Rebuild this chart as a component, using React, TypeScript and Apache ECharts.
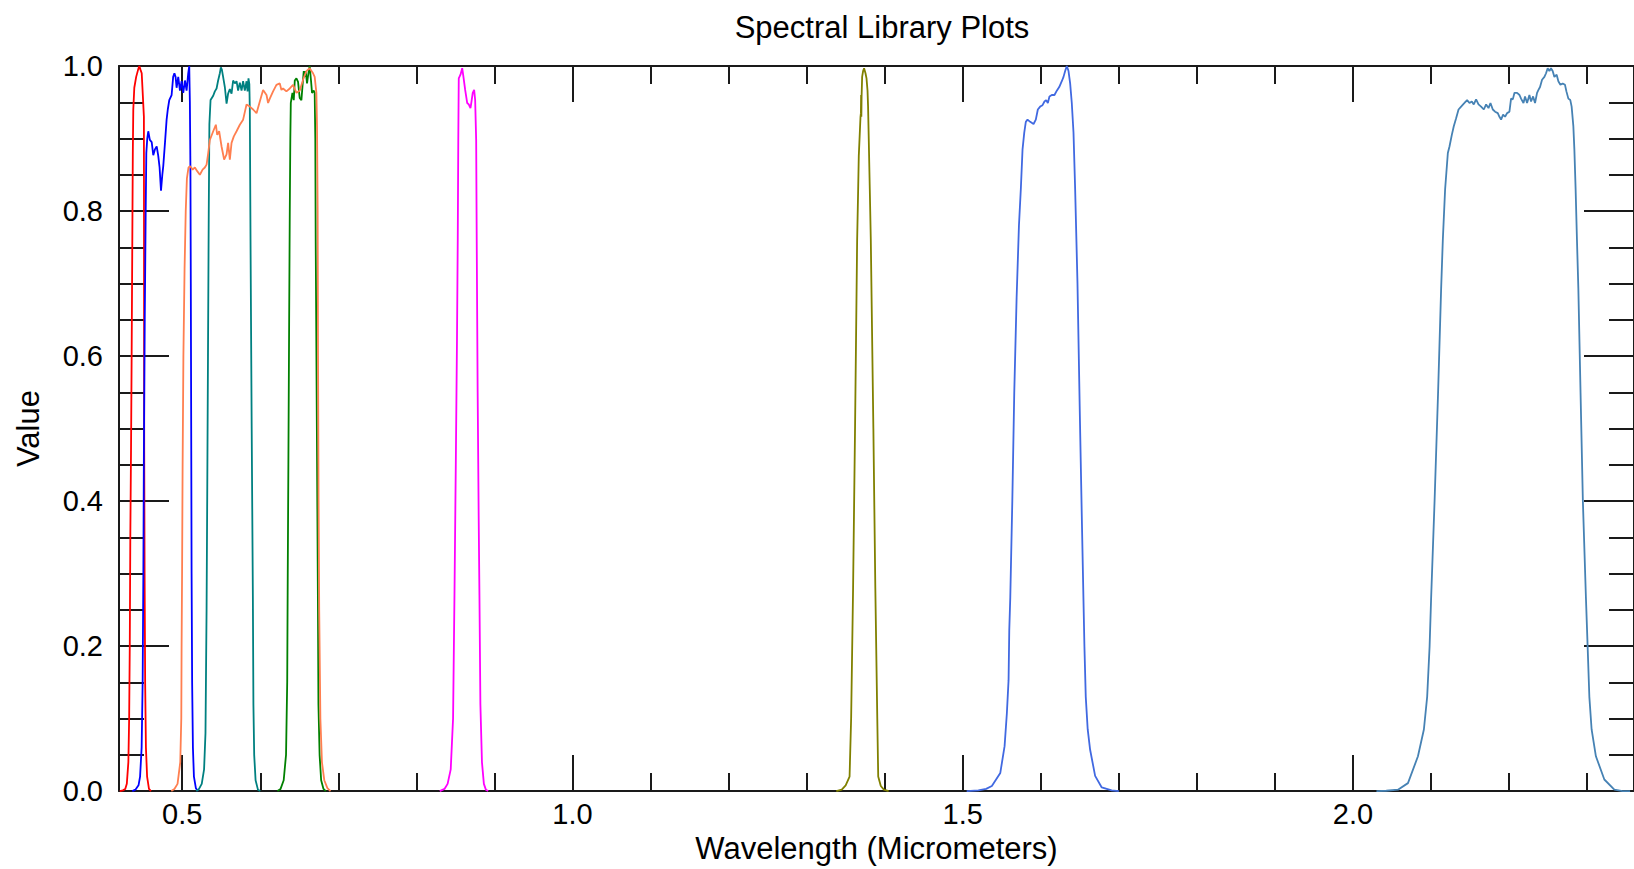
import React, { useEffect, useRef } from "react";
import * as echarts from "echarts";

// ---- axis data ----
const X_MIN = 0.419;
const X_MAX = 2.36;
const xMajorTicks = [0.5, 1.0, 1.5, 2.0];
const xMinorTicks = [0.6, 0.7, 0.8, 0.9, 1.1, 1.2, 1.3, 1.4, 1.6, 1.7, 1.8, 1.9, 2.1, 2.2, 2.3];
const Y_MIN = 0;
const Y_MAX = 1;
const Y_STEP = 0.2;

const chartTitle = "Spectral Library Plots";
const xName = "Wavelength (Micrometers)";
const yName = "Value";

// ---- series data: [wavelength (µm), value] ----
const coastal: [number, number][] = [
  [0.42, 0], [0.424, 0.001], [0.427, 0.003], [0.429, 0.01], [0.431, 0.04], [0.432, 0.1],
  [0.4328, 0.2], [0.4335, 0.35], [0.4344, 0.47], [0.4352, 0.6], [0.436, 0.75], [0.4367, 0.88],
  [0.4373, 0.94], [0.4386, 0.97], [0.441, 0.985], [0.4435, 0.995], [0.445, 1.0], [0.4465, 0.995],
  [0.4481, 0.99], [0.4495, 0.96], [0.4509, 0.93], [0.4511, 0.7], [0.4513, 0.47], [0.4518, 0.3],
  [0.4525, 0.15], [0.4535, 0.06], [0.455, 0.02], [0.4574, 0.003], [0.46, 0],
];

const blue: [number, number][] = [
  [0.436, 0], [0.44, 0.002], [0.444, 0.008], [0.446, 0.02], [0.448, 0.06], [0.4493, 0.15],
  [0.4502, 0.3], [0.4509, 0.47], [0.452, 0.65], [0.4532, 0.8], [0.454, 0.88], [0.4552, 0.9],
  [0.4565, 0.91], [0.4585, 0.898], [0.4609, 0.895], [0.4629, 0.877], [0.465, 0.885],
  [0.4673, 0.889], [0.4693, 0.876], [0.471, 0.86], [0.4728, 0.828], [0.4745, 0.85],
  [0.4757, 0.862], [0.4779, 0.894], [0.48, 0.926], [0.4815, 0.94], [0.4834, 0.953],
  [0.4864, 0.96], [0.4884, 0.985], [0.49, 0.99], [0.4915, 0.985], [0.4928, 0.97],
  [0.4949, 0.985], [0.4971, 0.966], [0.4992, 0.979], [0.5013, 0.963], [0.5035, 0.98],
  [0.5056, 0.966], [0.5077, 0.99], [0.509, 1.0], [0.5098, 0.95], [0.5105, 0.86], [0.511, 0.7],
  [0.5115, 0.5], [0.512, 0.3], [0.5127, 0.15], [0.5137, 0.06], [0.515, 0.02], [0.5175, 0.004],
  [0.52, 0],
];

const green: [number, number][] = [
  [0.518, 0], [0.5215, 0.003], [0.525, 0.01], [0.528, 0.03], [0.5298, 0.08], [0.5312, 0.25],
  [0.532, 0.4], [0.533, 0.6], [0.534, 0.8], [0.5348, 0.92], [0.5363, 0.953], [0.5397, 0.959],
  [0.5418, 0.965], [0.544, 0.969], [0.546, 0.98], [0.5482, 0.99], [0.5495, 0.998],
  [0.5508, 0.995], [0.5524, 0.985], [0.5546, 0.971], [0.5568, 0.948], [0.5588, 0.962],
  [0.561, 0.968], [0.5632, 0.962], [0.5652, 0.98], [0.5674, 0.976], [0.5696, 0.979],
  [0.5716, 0.966], [0.5738, 0.977], [0.576, 0.966], [0.578, 0.979], [0.5802, 0.966],
  [0.5824, 0.979], [0.5837, 0.965], [0.5849, 0.983], [0.586, 0.975], [0.5866, 0.94],
  [0.5875, 0.76], [0.589, 0.5], [0.5905, 0.27], [0.5912, 0.12], [0.5922, 0.05], [0.594, 0.015],
  [0.597, 0.002], [0.6, 0],
];

const red: [number, number][] = [
  [0.622, 0], [0.626, 0.003], [0.63, 0.015], [0.633, 0.05], [0.6345, 0.15], [0.6352, 0.3],
  [0.636, 0.45], [0.637, 0.65], [0.6378, 0.8], [0.6385, 0.9], [0.6391, 0.949], [0.6412, 0.963],
  [0.6429, 0.953], [0.6442, 0.98], [0.6463, 0.983], [0.6484, 0.978], [0.6505, 0.956],
  [0.6527, 0.953], [0.654, 0.971], [0.6557, 0.993], [0.6569, 0.985], [0.6582, 0.993],
  [0.6599, 0.976], [0.6617, 0.99], [0.6633, 1.0], [0.665, 0.98], [0.6663, 0.963],
  [0.6685, 0.966], [0.6697, 0.963], [0.6705, 0.9], [0.671, 0.76], [0.6725, 0.5],
  [0.6738, 0.27], [0.6745, 0.12], [0.676, 0.05], [0.678, 0.015], [0.681, 0.003], [0.684, 0],
];

const nir: [number, number][] = [
  [0.83, 0], [0.836, 0.003], [0.84, 0.01], [0.844, 0.03], [0.847, 0.1], [0.8488, 0.27],
  [0.8505, 0.45], [0.852, 0.62], [0.853, 0.76], [0.8537, 0.9], [0.8543, 0.983], [0.8565, 0.988],
  [0.8587, 0.997], [0.8603, 0.985], [0.8625, 0.967], [0.8651, 0.949], [0.8671, 0.947],
  [0.8693, 0.942], [0.8706, 0.951], [0.8722, 0.963], [0.874, 0.967], [0.8753, 0.953],
  [0.8766, 0.898], [0.8773, 0.76], [0.8785, 0.55], [0.8798, 0.38], [0.8808, 0.27],
  [0.882, 0.12], [0.884, 0.04], [0.8865, 0.01], [0.889, 0.002], [0.892, 0],
];

const swir1: [number, number][] = [
  [1.505, 0], [1.52, 0.001], [1.53, 0.003], [1.5373, 0.007], [1.5481, 0.025], [1.5536, 0.062],
  [1.5565, 0.107], [1.5587, 0.153], [1.5596, 0.222], [1.5609, 0.267], [1.5635, 0.4],
  [1.566, 0.55], [1.569, 0.68], [1.572, 0.78], [1.5744, 0.83], [1.5766, 0.885], [1.5788, 0.908],
  [1.5808, 0.923], [1.583, 0.926], [1.5864, 0.923], [1.5907, 0.92], [1.5936, 0.926],
  [1.5962, 0.94], [1.5992, 0.944], [1.6022, 0.946], [1.6047, 0.951], [1.6069, 0.953],
  [1.609, 0.949], [1.6111, 0.958], [1.6141, 0.96], [1.6175, 0.96], [1.6205, 0.966],
  [1.6236, 0.971], [1.6269, 0.979], [1.6291, 0.985], [1.6312, 0.993], [1.6333, 1.0],
  [1.6355, 0.993], [1.6376, 0.976], [1.6397, 0.949], [1.6419, 0.908], [1.644, 0.83],
  [1.647, 0.7], [1.65, 0.52], [1.6525, 0.38], [1.6546, 0.267], [1.6559, 0.199], [1.6576, 0.13],
  [1.6601, 0.085], [1.6632, 0.057], [1.6696, 0.021], [1.6781, 0.005], [1.6908, 0.001], [1.7, 0],
];

const swir2: [number, number][] = [
  [2.03, 0], [2.0426, 0.0005], [2.0576, 0.002], [2.0704, 0.011], [2.0832, 0.048],
  [2.0908, 0.085], [2.095, 0.13], [2.0981, 0.199], [2.1001, 0.267], [2.1045, 0.4],
  [2.109, 0.55], [2.1129, 0.693], [2.1151, 0.761], [2.118, 0.83], [2.1215, 0.88],
  [2.1236, 0.889], [2.1266, 0.905], [2.1291, 0.917], [2.1321, 0.928], [2.1352, 0.94],
  [2.1385, 0.944], [2.1428, 0.949], [2.1462, 0.953], [2.1492, 0.949], [2.1522, 0.951],
  [2.1547, 0.947], [2.1577, 0.954], [2.1608, 0.947], [2.1641, 0.944], [2.1676, 0.94],
  [2.1705, 0.947], [2.1736, 0.942], [2.1761, 0.949], [2.1791, 0.94], [2.182, 0.937],
  [2.1855, 0.935], [2.1876, 0.93], [2.1897, 0.926], [2.1923, 0.933], [2.1948, 0.93],
  [2.1974, 0.935], [2.2004, 0.937], [2.2025, 0.955], [2.2047, 0.954], [2.2069, 0.963],
  [2.2102, 0.963], [2.2133, 0.96], [2.2153, 0.955], [2.2184, 0.949], [2.2204, 0.958],
  [2.223, 0.949], [2.226, 0.96], [2.2281, 0.951], [2.2307, 0.958], [2.2332, 0.949],
  [2.2358, 0.963], [2.2376, 0.967], [2.2396, 0.971], [2.2422, 0.981], [2.2452, 0.985],
  [2.2473, 0.99], [2.2494, 0.997], [2.2516, 0.993], [2.2536, 0.997], [2.2558, 0.993],
  [2.258, 0.985], [2.2609, 0.988], [2.2631, 0.979], [2.2657, 0.974], [2.2686, 0.976],
  [2.2716, 0.974], [2.2734, 0.965], [2.2759, 0.955], [2.2784, 0.953], [2.2801, 0.944],
  [2.2823, 0.917], [2.2836, 0.885], [2.2852, 0.83], [2.2869, 0.761], [2.2887, 0.693],
  [2.2915, 0.55], [2.2945, 0.4], [2.2984, 0.267], [2.3006, 0.199], [2.3028, 0.13],
  [2.3057, 0.085], [2.3112, 0.048], [2.322, 0.016], [2.3348, 0.002], [2.3454, 0], [2.355, 0],
];

const pan: [number, number][] = [
  [0.486, 0], [0.49, 0.003], [0.494, 0.01], [0.4975, 0.04], [0.4988, 0.1], [0.4992, 0.2],
  [0.4998, 0.3], [0.5005, 0.45], [0.5015, 0.6], [0.503, 0.72], [0.5045, 0.8], [0.506, 0.845],
  [0.508, 0.86], [0.5098, 0.862], [0.5115, 0.86], [0.5133, 0.857], [0.5162, 0.86],
  [0.5192, 0.855], [0.5226, 0.85], [0.5261, 0.857], [0.529, 0.86], [0.5312, 0.864],
  [0.5333, 0.88], [0.5354, 0.898], [0.5397, 0.91], [0.5431, 0.919], [0.5448, 0.905],
  [0.5473, 0.91], [0.5504, 0.889], [0.5537, 0.871], [0.5568, 0.878], [0.5588, 0.894],
  [0.561, 0.871], [0.5632, 0.894], [0.5661, 0.903], [0.5696, 0.91], [0.5738, 0.919],
  [0.578, 0.926], [0.5824, 0.947], [0.5866, 0.944], [0.5908, 0.94], [0.5952, 0.935],
  [0.5994, 0.951], [0.6036, 0.967], [0.608, 0.96], [0.61, 0.949], [0.6122, 0.955],
  [0.6164, 0.965], [0.6207, 0.974], [0.625, 0.976], [0.6271, 0.967], [0.6292, 0.969],
  [0.6335, 0.965], [0.6378, 0.969], [0.642, 0.974], [0.6463, 0.963], [0.6505, 0.966],
  [0.6548, 0.981], [0.6591, 0.993], [0.6633, 0.997], [0.6676, 0.99], [0.6697, 0.985],
  [0.6719, 0.963], [0.6727, 0.916], [0.6735, 0.8], [0.674, 0.6], [0.6747, 0.4],
  [0.6755, 0.25], [0.677, 0.1], [0.679, 0.04], [0.682, 0.015], [0.686, 0.004], [0.69, 0],
];

const cirrus: [number, number][] = [
  [1.338, 0], [1.345, 0.002], [1.35, 0.008], [1.355, 0.02], [1.357, 0.1], [1.3595, 0.28],
  [1.362, 0.5], [1.3647, 0.76], [1.366, 0.83], [1.3668, 0.876], [1.3677, 0.898], [1.369, 0.93],
  [1.3695, 0.935], [1.3698, 0.96], [1.3701, 0.93], [1.3704, 0.958], [1.3711, 0.985],
  [1.3723, 0.993], [1.3736, 0.997], [1.3741, 0.997], [1.3754, 0.99], [1.3767, 0.983],
  [1.378, 0.966], [1.3787, 0.944], [1.3796, 0.898], [1.3809, 0.83], [1.3822, 0.76],
  [1.3855, 0.5], [1.388, 0.28], [1.3905, 0.1], [1.3917, 0.02], [1.395, 0.007], [1.399, 0.002],
  [1.405, 0],
];

const seriesNames = ["Coastal", "Blue", "Green", "Red", "NIR", "SWIR1", "SWIR2", "Pan", "Cirrus"];
const seriesData = [coastal, blue, green, red, nir, swir1, swir2, pan, cirrus];
const seriesColors = [
  "#ff0000", "#0000ff", "#008080", "#008000", "#ff00ff", "#4169e1", "#4682b4", "#ff7f50", "#808000",
];

const FONT = "'Liberation Sans', Arial, Helvetica, sans-serif";
const AXIS_COLOR = "#1a1a1a";

export default function App() {
  const ref = useRef<HTMLDivElement>(null);

  useEffect(() => {
    if (!ref.current) return;
    const chart = echarts.init(ref.current, null, { renderer: "svg" });
    const lineStyle = { color: AXIS_COLOR, width: 2 };

    const xBase = {
      type: "value" as const,
      min: X_MIN,
      max: X_MAX,
      splitLine: { show: false },
      minorSplitLine: { show: false },
    };

    const option: any = {
      animation: false,
      backgroundColor: "#ffffff",
      title: {
        text: chartTitle,
        left: 877,
        textAlign: "center",
        top: 7,
        textStyle: { fontFamily: FONT, fontSize: 31, fontWeight: "normal", color: "#000" },
      },
      grid: { left: 119, top: 66, right: -3, bottom: 74, containLabel: false },
      xAxis: [
        {
          ...xBase,
          position: "bottom",
          name: xName,
          nameLocation: "middle",
          nameGap: 37,
          nameTextStyle: { fontFamily: FONT, fontSize: 31, color: "#000" },
          axisLine: { show: true, onZero: false, lineStyle },
          axisTick: { show: true, inside: true, length: 36, customValues: xMajorTicks, lineStyle },
          axisLabel: {
            show: true,
            customValues: xMajorTicks,
            margin: 8,
            fontFamily: FONT,
            fontSize: 29,
            color: "#000",
            formatter: (v: number) => v.toFixed(1),
          },
        },
        {
          ...xBase,
          position: "bottom",
          axisLine: { show: false, onZero: false },
          axisTick: { show: true, inside: true, length: 18, customValues: xMinorTicks, lineStyle },
          axisLabel: { show: false },
        },
        {
          ...xBase,
          position: "top",
          axisLine: { show: true, onZero: false, lineStyle },
          axisTick: { show: true, inside: true, length: 36, customValues: xMajorTicks, lineStyle },
          axisLabel: { show: false },
        },
        {
          ...xBase,
          position: "top",
          axisLine: { show: false, onZero: false },
          axisTick: { show: true, inside: true, length: 18, customValues: xMinorTicks, lineStyle },
          axisLabel: { show: false },
        },
      ],
      yAxis: [
        {
          type: "value",
          position: "left",
          min: Y_MIN,
          max: Y_MAX,
          interval: Y_STEP,
          name: yName,
          nameLocation: "middle",
          nameGap: 75,
          nameTextStyle: { fontFamily: FONT, fontSize: 31, color: "#000" },
          axisLine: { show: true, onZero: false, lineStyle },
          axisTick: { show: true, inside: true, length: 50, lineStyle },
          minorTick: { show: true, splitNumber: 4, length: 25, lineStyle },
          axisLabel: {
            margin: 16,
            fontFamily: FONT,
            fontSize: 29,
            color: "#000",
            formatter: (v: number) => v.toFixed(1),
          },
          splitLine: { show: false },
          minorSplitLine: { show: false },
        },
        {
          type: "value",
          position: "right",
          min: Y_MIN,
          max: Y_MAX,
          interval: Y_STEP,
          axisLine: { show: true, onZero: false, lineStyle },
          axisTick: { show: true, inside: true, length: 50, lineStyle },
          minorTick: { show: true, splitNumber: 4, length: 25, lineStyle },
          axisLabel: { show: false },
          splitLine: { show: false },
          minorSplitLine: { show: false },
        },
      ],
      series: seriesData.map((d, i) => ({
        name: seriesNames[i],
        type: "line",
        xAxisIndex: 0,
        yAxisIndex: 0,
        data: d,
        symbol: "none",
        showSymbol: false,
        silent: true,
        clip: true,
        lineStyle: { color: seriesColors[i], width: 1.8 },
        itemStyle: { color: seriesColors[i] },
        z: 2,
      })),
    };

    chart.setOption(option);
    return () => {
      chart.dispose();
    };
  }, []);

  return (
    <div
      ref={ref}
      style={{ position: "absolute", left: 0, top: 0, width: 1634, height: 869, background: "#fff" }}
    />
  );
}
